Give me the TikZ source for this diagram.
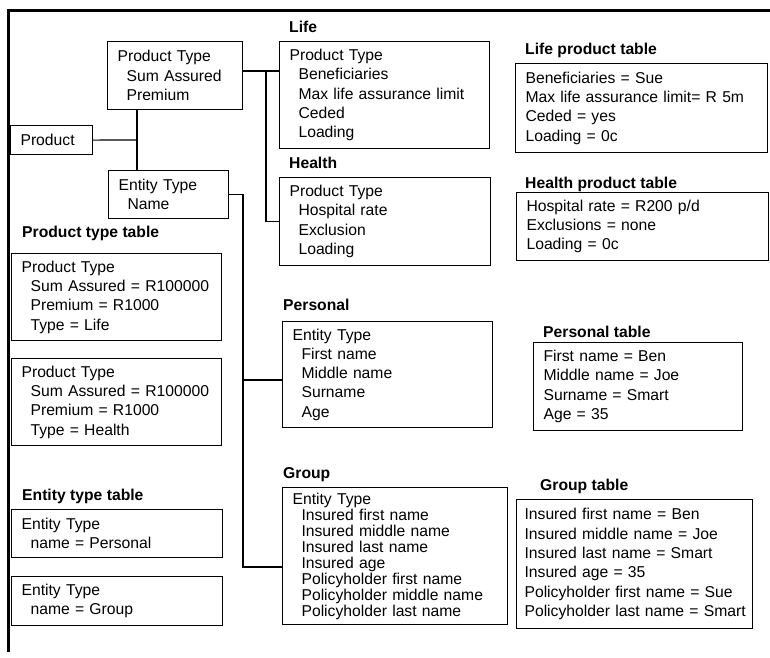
\documentclass[tikz,border=0pt]{standalone}
\usepackage{fontspec}
\setmainfont{Liberation Sans}
\newcommand{\tabind}{\hspace*{9pt}}
\tikzset{
  tbl/.style={draw, line width=1.1pt, anchor=north west, align=left,
    inner xsep=10pt, inner ysep=0pt},
  lbl/.style={anchor=base west, inner sep=0pt, font=\fontsize{15.7}{19.3}\selectfont\bfseries},
  link/.style={line width=1.1pt},
  frame/.style={line width=3pt}
}
\begin{document}
\begin{tikzpicture}[x=1pt, y=-1pt, font=\fontsize{15.7}{19.3}\selectfont]
            \useasboundingbox (0,0) rectangle (770,657);
            \draw[frame] (7,10) -- (770,10);
            \draw[frame] (8.5,8.5) -- (8.5,652);

            % model
            \node[tbl, text width=62pt, minimum height=29pt] (prod) at (10,125) {Product};
            \node[tbl, text width=115pt, minimum height=68pt] (pt) at (107,41)
                {Product Type\\\tabind Sum Assured\\\tabind Premium};
            \node[tbl, text width=100pt, minimum height=48pt] (et) at (108,170)
                {Entity Type\\\tabind Name};

            \node[lbl] (lifelbl) at (289,32.5) {Life};
            \node[tbl, text width=190pt, minimum height=107pt] (life) at (279,41)
                {Product Type\\\tabind Beneficiaries\\\tabind Max life assurance limit\\\tabind Ceded\\\tabind Loading};
            \node[lbl] (healthlbl) at (289,168.5) {Health};
            \node[tbl, text width=191pt, minimum height=88pt] (health) at (279,177)
                {Product Type\\\tabind Hospital rate\\\tabind Exclusion\\\tabind Loading};

            \node[lbl] (perslbl) at (283,310.5) {Personal};
            \node[tbl, text width=190pt, minimum height=106pt] (personal) at (282,321)
                {Entity Type\\\tabind First name\\\tabind Middle name\\\tabind Surname\\\tabind Age};
            \node[lbl] (grouplbl) at (283,478.5) {Group};
            \node[tbl, text width=205pt, minimum height=137pt, font=\fontsize{15.7}{16}\selectfont] (group) at (282,487)
                {Entity Type\\\tabind Insured first name\\\tabind Insured middle name\\\tabind Insured last name\\\tabind Insured age\\\tabind Policyholder first name\\\tabind Policyholder middle name\\\tabind Policyholder last name};

            % tables
            \node[lbl] (lifetablbl) at (525,54.5) {Life product table};
            \node[tbl, text width=232pt, minimum height=89pt] (lifetab) at (515,63)
                {Beneficiaries = Sue\\Max life assurance limit= R 5m\\Ceded = yes\\Loading = 0c};
            \node[lbl] (healthtablbl) at (525,188.5) {Health product table};
            \node[tbl, text width=232pt, minimum height=68pt] (healthtab) at (516,192)
                {Hospital rate = R200 p/d\\Exclusions = none\\Loading = 0c};

            \node[lbl] (ptlbl) at (22,237.5) {Product type table};
            \node[tbl, text width=190pt, minimum height=87pt] (pt1) at (11,253)
                {Product Type\\\tabind Sum Assured = R100000\\\tabind Premium = R1000\\\tabind Type = Life};
            \node[tbl, text width=190pt, minimum height=87pt] (pt2) at (11,358)
                {Product Type\\\tabind Sum Assured = R100000\\\tabind Premium = R1000\\\tabind Type = Health};

            \node[lbl] (etlbl) at (22,500.5) {Entity type table};
            \node[tbl, text width=191pt, minimum height=48pt] (et1) at (11,509)
                {Entity Type\\\tabind name = Personal};
            \node[tbl, text width=191pt, minimum height=49pt] (et2) at (11,576)
                {Entity Type\\\tabind name = Group};

            \node[lbl] (perstablbl) at (543,337.5) {Personal table};
            \node[tbl, text width=189pt, minimum height=88pt] (perstab) at (533,342)
                {First name = Ben\\Middle name = Joe\\Surname = Smart\\Age = 35};
            \node[lbl] (grouptablbl) at (540,490.5) {Group table};
            \node[tbl, inner xsep=8pt, text width=220pt, minimum height=129pt] (grouptab) at (516,499)
                {Insured first name = Ben\\Insured middle name = Joe\\Insured last name = Smart\\Insured age = 35\\Policyholder first name = Sue\\\mbox{Policyholder last name = Smart}};

            % links
            \coordinate (j1) at (137,140);
            \draw[link] (prod.east) -- (j1);
            \draw[link] (j1 |- pt.south) -- (j1 |- et.north);
            \coordinate (j2) at (266,71);
            \draw[link] (j2 -| pt.east) -- (j2 -| life.west);
            \draw[link] (j2) |- (health.west);
            \coordinate (j3) at (243,380);
            \coordinate (j4) at (243,567);
            \draw[link] (et.east) -| (j4) -- (j4 -| group.west);
            \draw[link] (j3) -- (j3 -| personal.west);
\end{tikzpicture}
\end{document}
